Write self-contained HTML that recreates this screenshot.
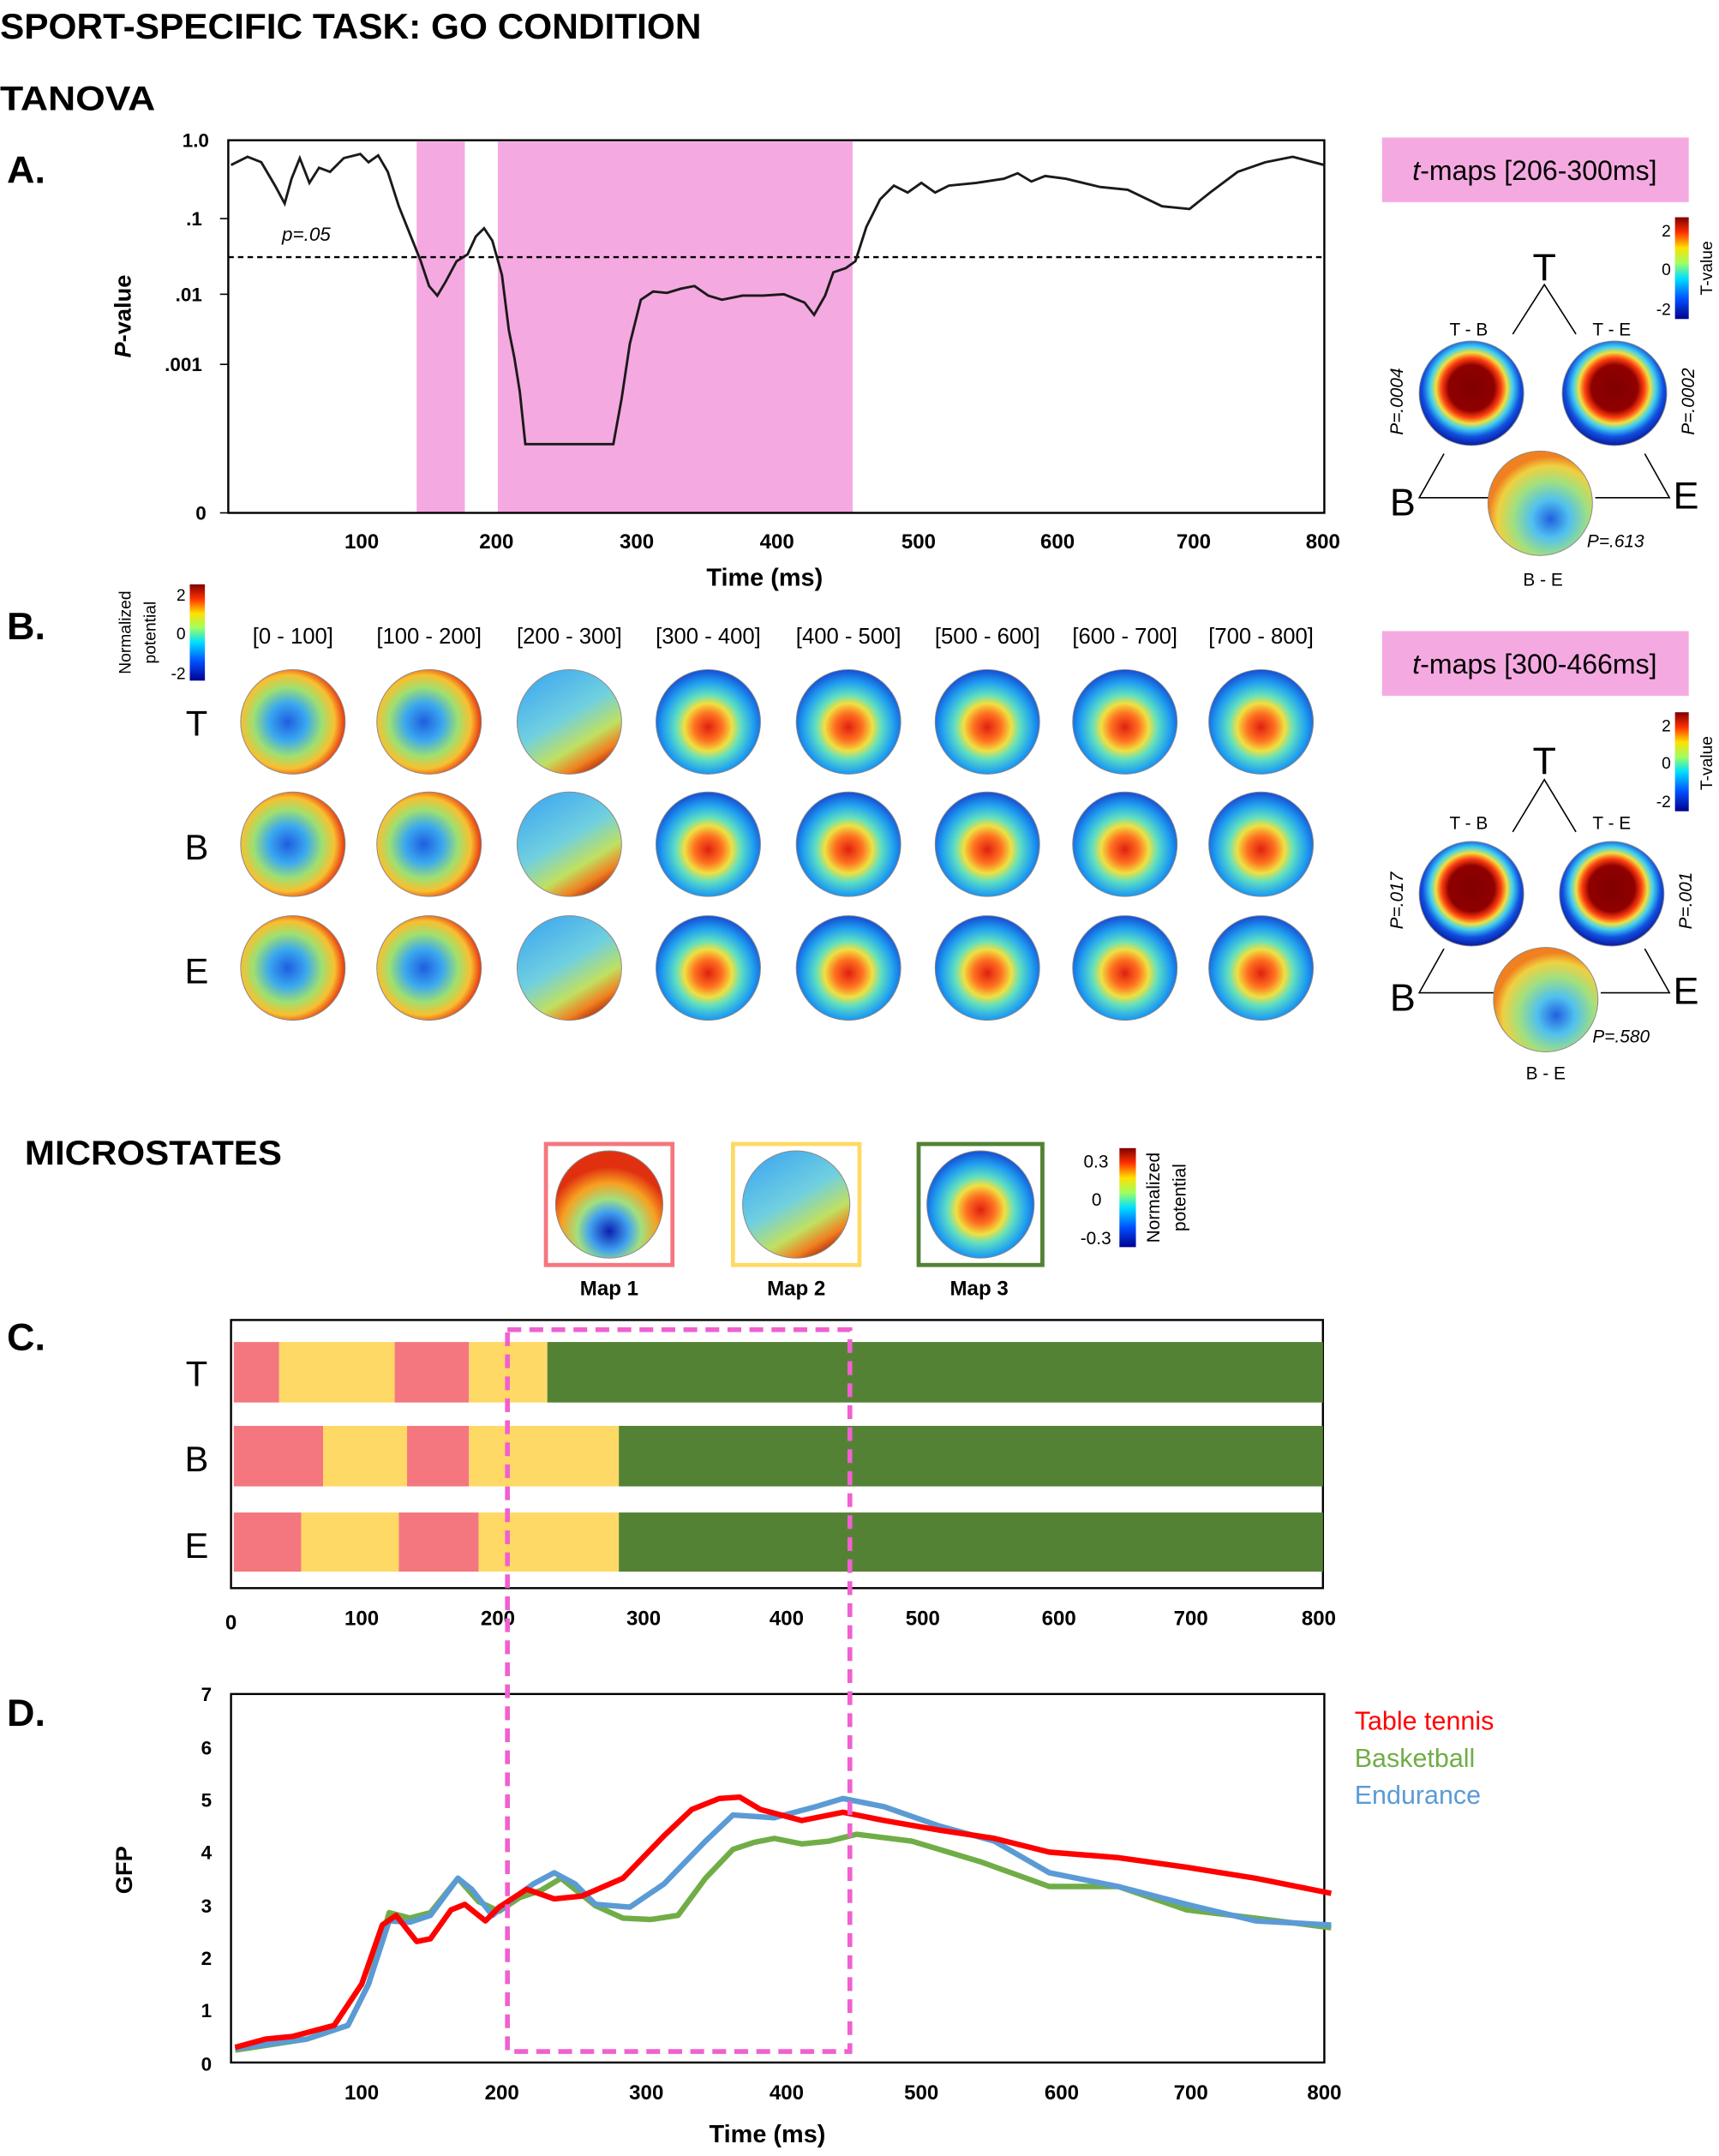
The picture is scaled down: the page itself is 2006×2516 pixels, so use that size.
<!DOCTYPE html>
<html><head><meta charset="utf-8"><style>
html,body{margin:0;padding:0;background:#fff}
svg{display:block}
text{font-family:"Liberation Sans",sans-serif}
</style></head><body>
<svg width="2006" height="2516" viewBox="0 0 1250 1568" preserveAspectRatio="none" xmlns="http://www.w3.org/2000/svg">
<defs>
<radialGradient id="early" cx="0.45" cy="0.5" r="0.6"><stop offset="0" stop-color="#1e5ee0"/><stop offset="0.3" stop-color="#3aa8f0"/><stop offset="0.55" stop-color="#9ee070"/><stop offset="0.75" stop-color="#f8c030"/><stop offset="0.92" stop-color="#e83010"/><stop offset="1" stop-color="#b01008"/></radialGradient>
<radialGradient id="late" cx="0.5" cy="0.55" r="0.6"><stop offset="0" stop-color="#e02010"/><stop offset="0.22" stop-color="#ff7020"/><stop offset="0.38" stop-color="#f0e040"/><stop offset="0.52" stop-color="#60e0c0"/><stop offset="0.72" stop-color="#20a0f0"/><stop offset="1" stop-color="#1028c8"/></radialGradient>
<linearGradient id="mid" x1="0.2" y1="0" x2="0.8" y2="1"><stop offset="0" stop-color="#40a8f0"/><stop offset="0.45" stop-color="#70d0e0"/><stop offset="0.7" stop-color="#c0e060"/><stop offset="0.85" stop-color="#f08020"/><stop offset="1" stop-color="#900808"/></linearGradient>
<radialGradient id="tmap" cx="0.5" cy="0.45" r="0.55"><stop offset="0" stop-color="#800000"/><stop offset="0.4" stop-color="#900000"/><stop offset="0.52" stop-color="#ff4010"/><stop offset="0.62" stop-color="#f0e040"/><stop offset="0.72" stop-color="#40d0f0"/><stop offset="0.85" stop-color="#1050e0"/><stop offset="1" stop-color="#0a1aa0"/></radialGradient>
<radialGradient id="be" cx="0.6" cy="0.65" r="0.6"><stop offset="0" stop-color="#2060e0"/><stop offset="0.3" stop-color="#50c0f0"/><stop offset="0.6" stop-color="#a0e080"/><stop offset="0.85" stop-color="#f0d040"/><stop offset="1" stop-color="#f08020"/></radialGradient>
<radialGradient id="m1" cx="0.5" cy="0.75" r="0.6"><stop offset="0" stop-color="#0a20b0"/><stop offset="0.3" stop-color="#40a0f0"/><stop offset="0.5" stop-color="#a0e080"/><stop offset="0.75" stop-color="#f8a020"/><stop offset="1" stop-color="#e03010"/></radialGradient>
<linearGradient id="cb" x1="0" y1="1" x2="0" y2="0"><stop offset="0" stop-color="#00008f"/><stop offset="0.2" stop-color="#0050ff"/><stop offset="0.4" stop-color="#00e0ff"/><stop offset="0.55" stop-color="#a0ff60"/><stop offset="0.7" stop-color="#ffe000"/><stop offset="0.85" stop-color="#ff3000"/><stop offset="1" stop-color="#800000"/></linearGradient>
</defs>

<text x="0" y="28" font-size="26" font-weight="bold" textLength="510" lengthAdjust="spacingAndGlyphs">SPORT-SPECIFIC TASK: GO CONDITION</text>
<text x="0" y="80" font-size="25" font-weight="bold" textLength="113" lengthAdjust="spacingAndGlyphs">TANOVA</text>

<!-- Panel A -->
<text x="5" y="133" font-size="28" font-weight="bold">A.</text>
<rect x="303" y="103" width="35" height="270" fill="#f5a9e1"/>
<rect x="362" y="103" width="258" height="270" fill="#f5a9e1"/>
<rect x="166" y="102" width="797" height="271" fill="none" stroke="#000" stroke-width="1.5"/>
<line x1="166" y1="187" x2="963" y2="187" stroke="#000" stroke-width="1.5" stroke-dasharray="4,3"/>
<text x="205" y="175" font-size="14" font-style="italic">p=.05</text>
<polyline fill="none" stroke="#1a1a1a" stroke-width="1.8" points="168,120 180,114 190,118 200,135 207,148 212,130 218,115 225,133 232,122 240,125 250,115 262,112 268,118 275,113 282,125 290,150 300,175 306,190 312,208 318,215 324,205 332,190 340,185 346,172 352,166 358,175 365,200 370,240 374,260 378,285 382,323 446,323 452,290 458,250 466,218 475,212 485,213 495,210 505,208 515,215 525,218 540,215 555,215 570,214 585,220 592,229 600,215 606,198 615,195 622,190 630,165 640,145 650,135 660,140 670,133 680,140 690,135 710,133 730,130 740,126 750,132 760,128 775,130 800,136 820,138 845,150 865,152 880,140 900,125 920,118 940,114 963,120"/>
<g font-size="14" font-weight="bold" text-anchor="end">
<text x="152" y="107">1.0</text><text x="147" y="164">.1</text><text x="147" y="219">.01</text><text x="147" y="270">.001</text><text x="150" y="378">0</text>
</g>
<g stroke="#000"><line x1="160" y1="159" x2="166" y2="159"/><line x1="160" y1="214" x2="166" y2="214"/><line x1="160" y1="265" x2="166" y2="265"/><line x1="160" y1="373" x2="166" y2="373"/></g>
<g font-size="15" font-weight="bold" text-anchor="middle">
<text x="263" y="399">100</text><text x="361" y="399">200</text><text x="463" y="399">300</text><text x="565" y="399">400</text><text x="668" y="399">500</text><text x="769" y="399">600</text><text x="868" y="399">700</text><text x="962" y="399">800</text>
<text x="556" y="426" font-size="18">Time (ms)</text>
</g>
<text transform="translate(95,230) rotate(-90)" font-size="17" font-weight="bold" text-anchor="middle"><tspan font-style="italic">P</tspan>-value</text>

<!-- t-maps 1 -->
<rect x="1005" y="100" width="223" height="47" fill="#f5a9e1"/>
<text x="1116" y="131" font-size="20" text-anchor="middle"><tspan font-style="italic">t</tspan>-maps [206-300ms]</text>
<rect x="1218" y="158" width="10" height="74" fill="url(#cb)"/>
<g font-size="12" text-anchor="end"><text x="1215" y="172">2</text><text x="1215" y="200">0</text><text x="1215" y="229">-2</text></g>
<text transform="translate(1245,195) rotate(-90)" font-size="12" text-anchor="middle">T-value</text>
<text x="1123" y="204" font-size="28" text-anchor="middle">T</text>
<polyline points="1100,243 1123,207 1146,243" fill="none" stroke="#000"/>
<text x="1068" y="244" font-size="13" text-anchor="middle">T - B</text>
<text x="1172" y="244" font-size="13" text-anchor="middle">T - E</text>
<circle cx="1070" cy="286" r="38" fill="url(#tmap)" stroke="#888" stroke-width="0.6"/>
<circle cx="1174" cy="286" r="38" fill="url(#tmap)" stroke="#888" stroke-width="0.6"/>
<circle cx="1120" cy="366" r="38" fill="url(#be)" stroke="#888" stroke-width="0.6"/>
<text transform="translate(1020,292) rotate(-90)" font-size="13" font-style="italic" text-anchor="middle">P=.0004</text>
<text transform="translate(1232,292) rotate(-90)" font-size="13" font-style="italic" text-anchor="middle">P=.0002</text>
<text x="1020" y="375" font-size="28" text-anchor="middle">B</text>
<text x="1226" y="370" font-size="28" text-anchor="middle">E</text>
<polyline points="1050,330 1032,362 1082,362" fill="none" stroke="#000"/>
<polyline points="1196,330 1214,362 1160,362" fill="none" stroke="#000"/>
<text x="1154" y="398" font-size="13" font-style="italic">P=.613</text>
<text x="1122" y="426" font-size="13" text-anchor="middle">B - E</text>

<!-- t-maps 2 -->
<rect x="1005" y="459" width="223" height="47" fill="#f5a9e1"/>
<text x="1116" y="490" font-size="20" text-anchor="middle"><tspan font-style="italic">t</tspan>-maps [300-466ms]</text>
<rect x="1218" y="518" width="10" height="72" fill="url(#cb)"/>
<g font-size="12" text-anchor="end"><text x="1215" y="532">2</text><text x="1215" y="559">0</text><text x="1215" y="587">-2</text></g>
<text transform="translate(1245,555) rotate(-90)" font-size="12" text-anchor="middle">T-value</text>
<text x="1123" y="563" font-size="28" text-anchor="middle">T</text>
<polyline points="1100,605 1123,567 1146,605" fill="none" stroke="#000"/>
<text x="1068" y="603" font-size="13" text-anchor="middle">T - B</text>
<text x="1172" y="603" font-size="13" text-anchor="middle">T - E</text>
<circle cx="1070" cy="650" r="38" fill="url(#tmap)" stroke="#888" stroke-width="0.6"/>
<circle cx="1172" cy="650" r="38" fill="url(#tmap)" stroke="#888" stroke-width="0.6"/>
<circle cx="1124" cy="727" r="38" fill="url(#be)" stroke="#888" stroke-width="0.6"/>
<text transform="translate(1020,655) rotate(-90)" font-size="13" font-style="italic" text-anchor="middle">P=.017</text>
<text transform="translate(1230,655) rotate(-90)" font-size="13" font-style="italic" text-anchor="middle">P=.001</text>
<text x="1020" y="735" font-size="28" text-anchor="middle">B</text>
<text x="1226" y="730" font-size="28" text-anchor="middle">E</text>
<polyline points="1050,690 1032,722 1086,722" fill="none" stroke="#000"/>
<polyline points="1196,690 1214,722 1164,722" fill="none" stroke="#000"/>
<text x="1158" y="758" font-size="13" font-style="italic">P=.580</text>
<text x="1124" y="785" font-size="13" text-anchor="middle">B - E</text>

<!-- Panel B -->
<text x="5" y="465" font-size="28" font-weight="bold">B.</text>
<rect x="138" y="425" width="11" height="70" fill="url(#cb)"/>
<g font-size="12" text-anchor="end"><text x="135" y="437">2</text><text x="135" y="465">0</text><text x="135" y="494">-2</text></g>
<text transform="translate(95,460) rotate(-90)" font-size="12" text-anchor="middle">Normalized</text>
<text transform="translate(113,460) rotate(-90)" font-size="12" text-anchor="middle">potential</text>
<g font-size="16" text-anchor="middle">
<text x="213" y="468">[0 - 100]</text><text x="312" y="468">[100 - 200]</text><text x="414" y="468">[200 - 300]</text><text x="515" y="468">[300 - 400]</text><text x="617" y="468">[400 - 500]</text><text x="718" y="468">[500 - 600]</text><text x="818" y="468">[600 - 700]</text><text x="917" y="468">[700 - 800]</text>
</g>
<g font-size="26" text-anchor="middle"><text x="143" y="535">T</text><text x="143" y="625">B</text><text x="143" y="715">E</text></g>
<g stroke="#888" stroke-width="0.6">
<circle cx="213" cy="525" r="38" fill="url(#early)"/><circle cx="312" cy="525" r="38" fill="url(#early)"/><circle cx="414" cy="525" r="38" fill="url(#mid)"/><circle cx="515" cy="525" r="38" fill="url(#late)"/><circle cx="617" cy="525" r="38" fill="url(#late)"/><circle cx="718" cy="525" r="38" fill="url(#late)"/><circle cx="818" cy="525" r="38" fill="url(#late)"/><circle cx="917" cy="525" r="38" fill="url(#late)"/>
<circle cx="213" cy="614" r="38" fill="url(#early)"/><circle cx="312" cy="614" r="38" fill="url(#early)"/><circle cx="414" cy="614" r="38" fill="url(#mid)"/><circle cx="515" cy="614" r="38" fill="url(#late)"/><circle cx="617" cy="614" r="38" fill="url(#late)"/><circle cx="718" cy="614" r="38" fill="url(#late)"/><circle cx="818" cy="614" r="38" fill="url(#late)"/><circle cx="917" cy="614" r="38" fill="url(#late)"/>
<circle cx="213" cy="704" r="38" fill="url(#early)"/><circle cx="312" cy="704" r="38" fill="url(#early)"/><circle cx="414" cy="704" r="38" fill="url(#mid)"/><circle cx="515" cy="704" r="38" fill="url(#late)"/><circle cx="617" cy="704" r="38" fill="url(#late)"/><circle cx="718" cy="704" r="38" fill="url(#late)"/><circle cx="818" cy="704" r="38" fill="url(#late)"/><circle cx="917" cy="704" r="38" fill="url(#late)"/>
</g>

<!-- Microstates -->
<text x="18" y="847" font-size="25" font-weight="bold" textLength="187" lengthAdjust="spacingAndGlyphs">MICROSTATES</text>
<rect x="397" y="832" width="92" height="88" fill="none" stroke="#f4777f" stroke-width="3"/>
<rect x="533" y="832" width="92" height="88" fill="none" stroke="#ffd966" stroke-width="3"/>
<rect x="668" y="832" width="90" height="88" fill="none" stroke="#548235" stroke-width="3"/>
<circle cx="443" cy="876" r="39" fill="url(#m1)" stroke="#888" stroke-width="0.6"/>
<circle cx="579" cy="876" r="39" fill="url(#mid)" stroke="#888" stroke-width="0.6"/>
<circle cx="713" cy="876" r="39" fill="url(#late)" stroke="#888" stroke-width="0.6"/>
<g font-size="15" font-weight="bold" text-anchor="middle"><text x="443" y="942">Map 1</text><text x="579" y="942">Map 2</text><text x="712" y="942">Map 3</text></g>
<rect x="814" y="835" width="12" height="72" fill="url(#cb)"/>
<g font-size="13" text-anchor="end"><text x="806" y="849">0.3</text><text x="801" y="877">0</text><text x="808" y="905">-0.3</text></g>
<text transform="translate(843,871) rotate(-90)" font-size="13" text-anchor="middle">Normalized</text>
<text transform="translate(862,871) rotate(-90)" font-size="13" text-anchor="middle">potential</text>

<!-- Panel C -->
<text x="5" y="982" font-size="28" font-weight="bold">C.</text>
<rect x="168" y="960" width="794" height="195" fill="none" stroke="#000" stroke-width="1.5"/>
<g>
<rect x="170" y="976" width="33" height="44" fill="#f4777f"/><rect x="203" y="976" width="84" height="44" fill="#ffd966"/><rect x="287" y="976" width="54" height="44" fill="#f4777f"/><rect x="341" y="976" width="57" height="44" fill="#ffd966"/><rect x="398" y="976" width="564" height="44" fill="#548235"/>
<rect x="170" y="1037" width="65" height="44" fill="#f4777f"/><rect x="235" y="1037" width="61" height="44" fill="#ffd966"/><rect x="296" y="1037" width="45" height="44" fill="#f4777f"/><rect x="341" y="1037" width="109" height="44" fill="#ffd966"/><rect x="450" y="1037" width="512" height="44" fill="#548235"/>
<rect x="170" y="1100" width="49" height="43" fill="#f4777f"/><rect x="219" y="1100" width="71" height="43" fill="#ffd966"/><rect x="290" y="1100" width="58" height="43" fill="#f4777f"/><rect x="348" y="1100" width="102" height="43" fill="#ffd966"/><rect x="450" y="1100" width="512" height="43" fill="#548235"/>
</g>
<g font-size="26" text-anchor="middle"><text x="143" y="1008">T</text><text x="143" y="1070">B</text><text x="143" y="1133">E</text></g>
<g font-size="15" font-weight="bold" text-anchor="middle">
<text x="168" y="1185">0</text><text x="263" y="1182">100</text><text x="362" y="1182">200</text><text x="468" y="1182">300</text><text x="572" y="1182">400</text><text x="671" y="1182">500</text><text x="770" y="1182">600</text><text x="866" y="1182">700</text><text x="959" y="1182">800</text>
</g>

<!-- Panel D -->
<text x="5" y="1255" font-size="28" font-weight="bold">D.</text>
<rect x="168" y="1232" width="795" height="268" fill="none" stroke="#000" stroke-width="1.5"/>
<g font-size="14" font-weight="bold" text-anchor="end">
<text x="154" y="1237">7</text><text x="154" y="1276">6</text><text x="154" y="1314">5</text><text x="154" y="1352">4</text><text x="154" y="1391">3</text><text x="154" y="1429">2</text><text x="154" y="1467">1</text><text x="154" y="1506">0</text>
</g>
<g font-size="15" font-weight="bold" text-anchor="middle">
<text x="263" y="1527">100</text><text x="365" y="1527">200</text><text x="470" y="1527">300</text><text x="572" y="1527">400</text><text x="670" y="1527">500</text><text x="772" y="1527">600</text><text x="866" y="1527">700</text><text x="963" y="1527">800</text>
<text x="558" y="1558" font-size="18">Time (ms)</text>
</g>
<text transform="translate(96,1360) rotate(-90)" font-size="17" font-weight="bold" text-anchor="middle">GFP</text>
<g fill="none" stroke-width="4" stroke-linejoin="round">
<polyline stroke="#70ad47" points="171,1491 223,1483 253,1473 268,1443 283,1391 298,1395 313,1391 333,1366 348,1383 363,1390 378,1380 393,1375 408,1366 423,1378 433,1386 453,1395 473,1396 493,1393 513,1366 533,1345 548,1340 563,1337 583,1341 603,1339 623,1334 663,1339 713,1354 763,1372 813,1372 863,1389 913,1395 968,1402"/>
<polyline stroke="#5b9bd5" points="171,1490 223,1483 253,1473 268,1443 283,1397 298,1398 313,1393 333,1366 343,1374 358,1393 373,1381 388,1370 403,1362 418,1370 433,1385 458,1387 483,1370 513,1339 533,1320 563,1322 593,1314 613,1308 643,1314 683,1328 723,1339 763,1362 813,1372 863,1385 913,1397 968,1400"/>
<polyline stroke="#ff0000" points="171,1489 193,1483 213,1481 243,1473 263,1443 278,1400 288,1393 303,1412 313,1410 328,1389 338,1385 353,1397 363,1387 383,1374 403,1381 423,1379 453,1366 483,1335 503,1316 523,1308 538,1307 553,1316 583,1324 613,1318 643,1324 683,1331 723,1337 763,1347 813,1351 863,1358 913,1366 968,1377"/>
</g>
<g font-size="19"><text x="985" y="1258" fill="#ff0000">Table tennis</text><text x="985" y="1285" fill="#70ad47">Basketball</text><text x="985" y="1312" fill="#5b9bd5">Endurance</text></g>

<rect x="369" y="967" width="249" height="525" fill="none" stroke="#f060d0" stroke-width="3.5" stroke-dasharray="10,6"/>
</svg>
</body></html>
